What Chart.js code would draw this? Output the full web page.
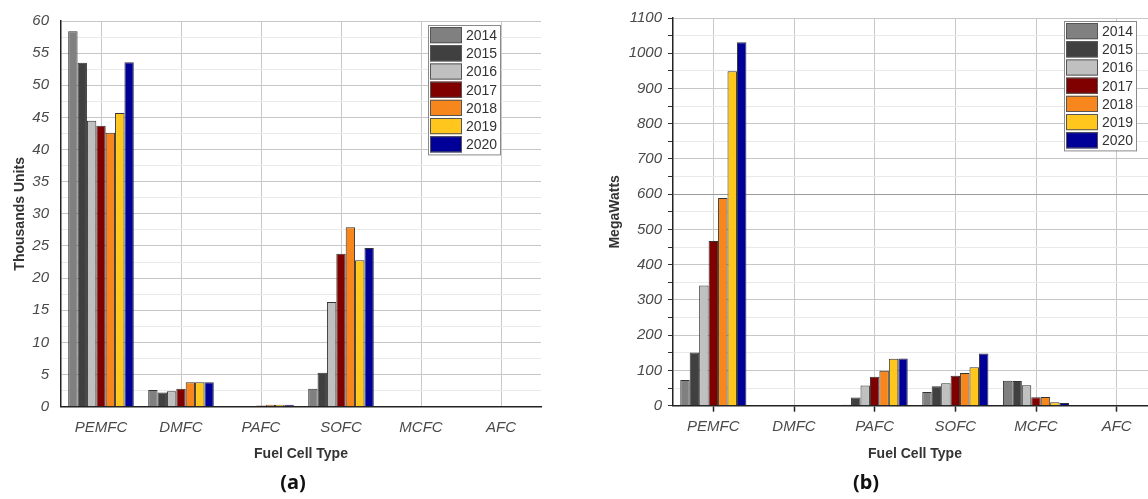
<!DOCTYPE html>
<html>
<head>
<meta charset="utf-8">
<title>Fuel cell shipments</title>
<script src="https://cdn.jsdelivr.net/npm/chart.js@4.4.1/dist/chart.umd.min.js"></script>
<style>
  html, body { margin: 0; padding: 0; background: #fff; overflow: hidden; }
  body { width: 1148px; height: 499px; position: relative; }
  .wrap { position: absolute; top: 0; }
  .sub {
    position: absolute; top: 468px; line-height: 27px;
    font: bold 20px "Noto Sans", "Open Sans", sans-serif; color: #111;
    transform: translateX(-50%);
  }
</style>
</head>
<body>
<div class="wrap" style="left:0px"><canvas id="unitsChart" width="570" height="470"></canvas></div>
<div class="wrap" style="left:600px"><canvas id="powerChart" width="570" height="470"></canvas></div>
<div class="sub" style="left:293px">(a)</div>
<div class="sub" style="left:866px">(b)</div>

<script>
const fuelCells = ['PEMFC', 'DMFC', 'PAFC', 'SOFC', 'MCFC', 'AFC'];
const years = ['2014', '2015', '2016', '2017', '2018', '2019', '2020'];
const yearColors = ['#808080', '#404040', '#c0c0c0', '#800000', '#f7861c', '#ffc61e', '#000099'];

// (a) shipments, thousands of units
const units2014 = [58.4, 2.6, 0.05, 2.8, 0.1, 0];
const units2015 = [53.5, 2.2, 0.05, 5.3, 0, 0];
const units2016 = [44.5, 2.4, 0.05, 16.3, 0, 0.1];
const units2017 = [43.7, 2.8, 0.2, 23.8, 0, 0.1];
const units2018 = [42.6, 3.8, 0.3, 27.9, 0, 0];
const units2019 = [45.7, 3.8, 0.3, 22.8, 0, 0];
const units2020 = [53.6, 3.8, 0.3, 24.7, 0, 0];

// (b) shipments, megawatts
const mw2014 = [73, 0, 3, 39, 71, 0];
const mw2015 = [151, 0, 23, 55, 70, 0];
const mw2016 = [341, 0, 57, 64, 58, 0];
const mw2017 = [467, 0, 82, 85, 24, 0];
const mw2018 = [589, 0, 99, 93, 25, 0];
const mw2019 = [949, 0, 133, 109, 10, 0];
const mw2020 = [1031, 0, 134, 148, 8, 0];

const unitsSeries = [units2014, units2015, units2016, units2017, units2018, units2019, units2020];
const mwSeries = [mw2014, mw2015, mw2016, mw2017, mw2018, mw2019, mw2020];

const tickFont = { family: '"Liberation Sans", Arial, sans-serif', size: 15, style: 'italic' };
const titleFont = { family: '"Liberation Sans", Arial, sans-serif', size: 14, weight: 'bold' };

function buildSets(series) {
  return series.map((vals, i) => ({
    label: years[i],
    data: vals,
    backgroundColor: yearColors[i],
    borderColor: '#333',
    borderWidth: 1,
    categoryPercentage: 0.82,
    barPercentage: 1.0
  }));
}

// legend box drawn inside the plot, like the original figure
const boxLegend = {
  id: 'boxLegend',
  afterDraw(chart, args, opts) {
    const ctx = chart.ctx;
    const sets = chart.data.datasets;
    const row = opts.row;
    const h = row * sets.length + 2;
    ctx.save();
    ctx.fillStyle = '#fff';
    ctx.fillRect(opts.x, opts.y, opts.w, h);
    ctx.strokeStyle = '#8a8a8a';
    ctx.lineWidth = 1;
    ctx.strokeRect(opts.x + 0.5, opts.y + 0.5, opts.w, h);
    sets.forEach((ds, i) => {
      const ry = opts.y + 1 + i * row;
      ctx.fillStyle = ds.backgroundColor;
      ctx.fillRect(opts.x + 2, ry + 1, 32, row - 2);
      ctx.strokeStyle = '#555';
      ctx.strokeRect(opts.x + 2.5, ry + 1.5, 31, row - 3);
      ctx.fillStyle = '#333';
      ctx.font = '14px "Liberation Sans", Arial, sans-serif';
      ctx.textBaseline = 'middle';
      ctx.fillText(ds.label, opts.x + 38, ry + row / 2 + 1);
    });
    ctx.restore();
  }
};

function makeOptions(o) {
  return {
    responsive: false,
    animation: false,
    devicePixelRatio: 1,
    layout: { padding: { left: 0, top: 18, right: o.padRight, bottom: 0 } },
    plugins: {
      legend: { display: false },
      tooltip: { enabled: false },
      boxLegend: o.legend
    },
    scales: {
      x: {
        afterFit(scale) { scale.height = o.xHeight; },
        grid: {
          offset: false,
          color: '#c8c8c8',
          drawTicks: o.ticks,
          tickLength: 6,
          tickColor: '#222',
          tickWidth: 1.5
        },
        border: { color: '#222', width: 1.5 },
        ticks: { font: tickFont, color: '#4a4a4a', padding: o.ticks ? 6 : 12 },
        title: { display: true, text: 'Fuel Cell Type', font: titleFont, color: '#333', padding: { top: 4, bottom: 7 } }
      },
      y: {
        min: 0,
        max: o.max,
        afterFit(scale) { scale.width = o.yWidth; },
        grid: {
          color: c => {
            if (!c.tick) return '#e9e9e9';
            if (c.tick.value === o.darkLine) return '#9a9a9a';
            return c.tick.value % o.major === 0 ? '#c6c6c6' : '#e9e9e9';
          },
          drawTicks: o.ticks,
          tickLength: 5,
          tickColor: '#333'
        },
        border: { color: '#222', width: 1.5 },
        ticks: {
          stepSize: o.major / 2,
          maxTicksLimit: 100,
          autoSkip: false,
          font: tickFont,
          color: '#4a4a4a',
          padding: o.ticks ? 6 : 12,
          callback: v => (v % o.major === 0 ? v : '')
        },
        title: { display: true, text: o.yTitle, font: titleFont, color: '#333', padding: { top: o.yTitlePad, bottom: 0 } }
      }
    }
  };
}

const unitsChart = new Chart(document.getElementById('unitsChart'), {
  type: 'bar',
  data: { labels: fuelCells, datasets: buildSets(unitsSeries) },
  options: makeOptions({
    max: 60, major: 5, yTitle: 'Thousands Units', yTitlePad: 12,
    yWidth: 61, xHeight: 63.3, padRight: 29, ticks: false, darkLine: null,
    legend: { x: 428, y: 25, w: 72, row: 18.2 }
  }),
  plugins: [boxLegend]
});

const powerChart = new Chart(document.getElementById('powerChart'), {
  type: 'bar',
  data: { labels: fuelCells, datasets: buildSets(mwSeries) },
  options: makeOptions({
    max: 1100, major: 100, yTitle: 'MegaWatts', yTitlePad: 6.6,
    yWidth: 73, xHeight: 64.3, padRight: 13, ticks: true, darkLine: 600,
    legend: { x: 464, y: 21, w: 72, row: 18.2 }
  }),
  plugins: [boxLegend]
});
</script>
</body>
</html>
